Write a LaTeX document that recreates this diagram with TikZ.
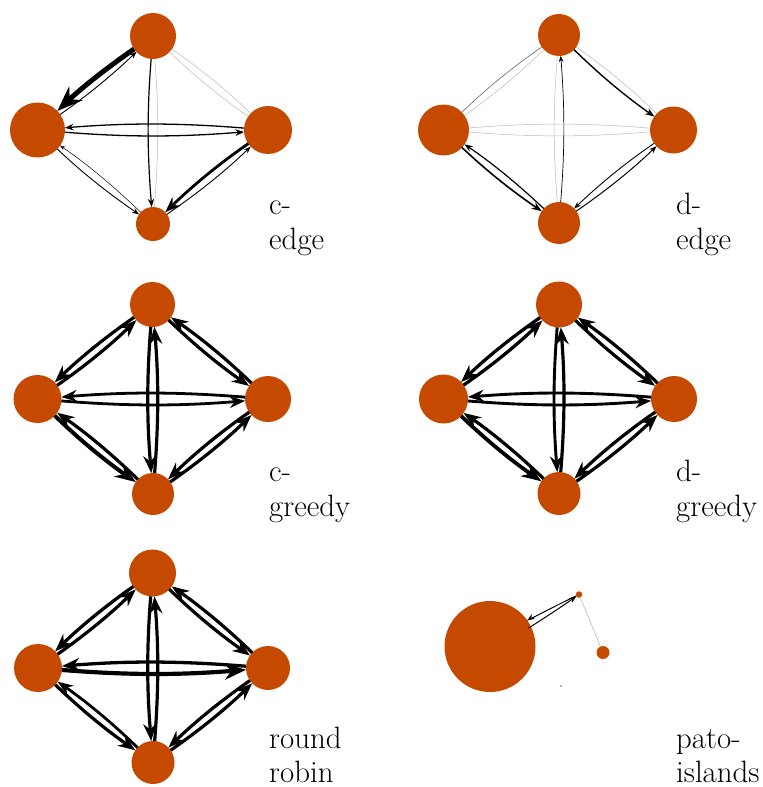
\documentclass[tikz,border=0pt]{standalone}
\usetikzlibrary{arrows.meta}
\definecolor{nodeor}{RGB}{197,74,0}
\definecolor{lightedge}{RGB}{185,185,185}
\definecolor{darkedge}{RGB}{80,80,80}
\begin{document}
\begin{tikzpicture}[x=1bp,y=-1bp,
  v/.style={circle, fill=nodeor, inner sep=0pt, minimum size=#1},
  e/.style n args={3}{-{Stealth}, line width=#1, black, bend right=4.6,
    shorten <=#2, shorten >=#3},
  g/.style 2 args={lightedge, line width=0.5bp, bend right=4.6,
    shorten <=#1, shorten >=#2},
  dk/.style 2 args={darkedge, line width=0.5bp, bend right=4.6,
    shorten <=#1, shorten >=#2},
  lab/.style={anchor=base west, inner sep=0pt, font=\fontsize{31}{36}\selectfont}]
\useasboundingbox (0,0) rectangle (763,787);

% ---------- panel 1: c-edge ----------
\node[v=46bp] (t1) at (153,36) {};
\node[v=55bp] (l1) at (37.5,130) {};
\node[v=48bp] (r1) at (268,130) {};
\node[v=34bp] (b1) at (153,224) {};
\draw[e={5}{23}{27.5}] (t1.center) to (l1.center);
\draw[e={0.9}{27.5}{23}] (l1.center) to (t1.center);
\draw[g={23}{24}] (t1.center) to (r1.center);
\draw[g={24}{23}] (r1.center) to (t1.center);
\draw[e={1.2}{23}{17}] (t1.center) to (b1.center);
\draw[g={17}{23}] (b1.center) to (t1.center);
\draw[e={1.3}{27.5}{24}] (l1.center) to (r1.center);
\draw[e={1.3}{24}{27.5}] (r1.center) to (l1.center);
\draw[e={0.9}{27.5}{17}] (l1.center) to (b1.center);
\draw[e={0.5}{17}{27.5}] (b1.center) to (l1.center);
\draw[e={2.8}{24}{17}] (r1.center) to (b1.center);
\draw[e={0.9}{17}{24}] (b1.center) to (r1.center);
\node[lab] (la1) at (269,214) {c-};
\node[lab] (lb1) at (269,249) {edge};

% ---------- panel 2: d-edge ----------
\node[v=42bp] (t2) at (559,35) {};
\node[v=51bp] (l2) at (443.5,130) {};
\node[v=47bp] (r2) at (673.5,130) {};
\node[v=42bp] (b2) at (559,223) {};
\draw[dk={21}{25.5}] (t2.center) to (l2.center);
\draw[g={25.5}{21}] (l2.center) to (t2.center);
\draw[e={1.4}{21}{23.5}] (t2.center) to (r2.center);
\draw[g={23.5}{21}] (r2.center) to (t2.center);
\draw[g={21}{21}] (t2.center) to (b2.center);
\draw[e={0.7}{21}{21}] (b2.center) to (t2.center);
\draw[g={25.5}{23.5}] (l2.center) to (r2.center);
\draw[g={23.5}{25.5}] (r2.center) to (l2.center);
\draw[e={1.6}{25.5}{21}] (l2.center) to (b2.center);
\draw[e={1.2}{21}{25.5}] (b2.center) to (l2.center);
\draw[e={0.9}{23.5}{21}] (r2.center) to (b2.center);
\draw[e={1.0}{21}{23.5}] (b2.center) to (r2.center);
\node[lab] (la2) at (676,214) {d-};
\node[lab] (lb2) at (676,249) {edge};

% ---------- panel 3: c-greedy ----------
\node[v=45bp] (t3) at (152.5,304.5) {};
\node[v=48bp] (l3) at (37.5,399) {};
\node[v=46bp] (r3) at (268,399) {};
\node[v=42bp] (b3) at (153,494) {};
\draw[e={3.2}{22.5}{24}] (t3.center) to (l3.center);
\draw[e={3.2}{24}{22.5}] (l3.center) to (t3.center);
\draw[e={3.2}{22.5}{23}] (t3.center) to (r3.center);
\draw[e={3.2}{23}{22.5}] (r3.center) to (t3.center);
\draw[e={3.2}{22.5}{21}] (t3.center) to (b3.center);
\draw[e={3.2}{21}{22.5}] (b3.center) to (t3.center);
\draw[e={2.8}{24}{23}] (l3.center) to (r3.center);
\draw[e={2.8}{23}{24}] (r3.center) to (l3.center);
\draw[e={4.0}{24}{21}] (l3.center) to (b3.center);
\draw[e={3.2}{21}{24}] (b3.center) to (l3.center);
\draw[e={3.2}{23}{21}] (r3.center) to (b3.center);
\draw[e={3.2}{21}{23}] (b3.center) to (r3.center);
\node[lab] (la3) at (269,481) {c-};
\node[lab] (lb3) at (269,516) {greedy};

% ---------- panel 4: d-greedy ----------
\node[v=46bp] (t4) at (559,304.5) {};
\node[v=49bp] (l4) at (443.5,399) {};
\node[v=46bp] (r4) at (674,399) {};
\node[v=43bp] (b4) at (559,493.5) {};
\draw[e={3.3}{23}{24.5}] (t4.center) to (l4.center);
\draw[e={3.3}{24.5}{23}] (l4.center) to (t4.center);
\draw[e={3.2}{23}{23}] (t4.center) to (r4.center);
\draw[e={3.2}{23}{23}] (r4.center) to (t4.center);
\draw[e={2.9}{23}{21.5}] (t4.center) to (b4.center);
\draw[e={3.2}{21.5}{23}] (b4.center) to (t4.center);
\draw[e={2.9}{24.5}{23}] (l4.center) to (r4.center);
\draw[e={2.9}{23}{24.5}] (r4.center) to (l4.center);
\draw[e={3.8}{24.5}{21.5}] (l4.center) to (b4.center);
\draw[e={3.2}{21.5}{24.5}] (b4.center) to (l4.center);
\draw[e={3.2}{23}{21.5}] (r4.center) to (b4.center);
\draw[e={3.2}{21.5}{23}] (b4.center) to (r4.center);
\node[lab] (la4) at (676,481) {d-};
\node[lab] (lb4) at (676,516) {greedy};

% ---------- panel 5: round robin ----------
\node[v=47bp] (t5) at (152.5,573) {};
\node[v=48bp] (l5) at (38,668) {};
\node[v=44bp] (r5) at (268,668) {};
\node[v=43bp] (b5) at (153,762.5) {};
\draw[e={3.3}{23.5}{24}] (t5.center) to (l5.center);
\draw[e={3.2}{24}{23.5}] (l5.center) to (t5.center);
\draw[e={3.2}{23.5}{22}] (t5.center) to (r5.center);
\draw[e={3.2}{22}{23.5}] (r5.center) to (t5.center);
\draw[e={3.2}{23.5}{21.5}] (t5.center) to (b5.center);
\draw[e={3.2}{21.5}{23.5}] (b5.center) to (t5.center);
\draw[e={4.2}{24}{22}] (l5.center) to (r5.center);
\draw[e={3.3}{22}{24}] (r5.center) to (l5.center);
\draw[e={3.2}{24}{21.5}] (l5.center) to (b5.center);
\draw[e={2.8}{21.5}{24}] (b5.center) to (l5.center);
\draw[e={3.2}{22}{21.5}] (r5.center) to (b5.center);
\draw[e={3.2}{21.5}{22}] (b5.center) to (r5.center);
\node[lab] (la5) at (269,748) {round};
\node[lab] (lb5) at (269,782) {robin};

% ---------- panel 6: pato-islands ----------
\node[v=91bp] (big6) at (490,646.5) {};
\node[v=6.5bp] (s6) at (579,594.5) {};
\node[v=13bp] (m6) at (603,652.5) {};
\node[v=1.6bp] (x6) at (561,686) {};
\draw[e={1.0}{45.5}{3.25}] (big6.center) to (s6.center);
\draw[e={1.0}{3.25}{45.5}] (s6.center) to (big6.center);
\draw[lightedge, line width=0.6bp] (s6) -- (m6);
\node[lab] (la6) at (676,748) {pato-};
\node[lab] (lb6) at (676,782) {islands};
\end{tikzpicture}
\end{document}
